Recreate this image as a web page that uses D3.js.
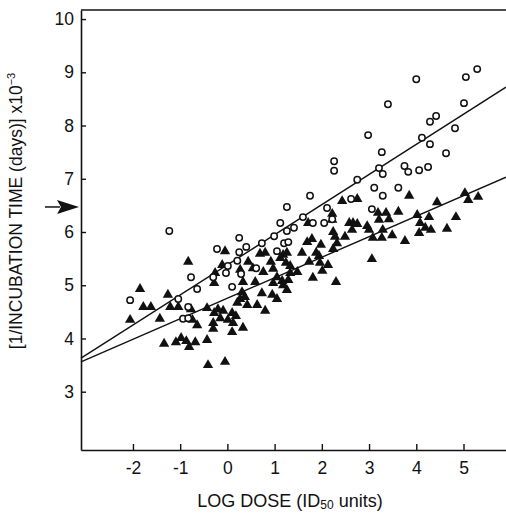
<!DOCTYPE html>
<html>
<head>
<meta charset="utf-8">
<script src="https://cdn.jsdelivr.net/npm/d3@7"></script>
<style>
  body { margin: 0; background: #fff; }
  text { font-family: "Liberation Sans", Arial, Helvetica, sans-serif; fill: #111; }
</style>
</head>
<body>
<div id="chart"></div>
<script>
// datos: [log dosis, 1/tiempo x10^-3]
const circles = [
  [-1.23, 6.02], [-2.06, 4.72], [-0.77, 5.15], [-0.64, 4.93], [-1.04, 4.74],
  [-0.94, 4.37], [-0.83, 4.38], [-0.83, 4.59], [-0.30, 5.15], [-0.22, 5.68],
  [-0.03, 5.23], [0.10, 4.97], [0.25, 5.89], [0.25, 5.62], [0.40, 5.72],
  [0.21, 5.46], [0.01, 5.36], [0.29, 5.21], [0.61, 5.32], [0.73, 5.79],
  [0.99, 5.92], [1.05, 5.64], [1.12, 6.17], [1.20, 5.79], [1.29, 5.81],
  [1.26, 6.02], [1.41, 6.08], [1.60, 6.28], [1.81, 6.17], [1.26, 6.47],
  [1.75, 6.68], [3.40, 8.40], [2.98, 7.82], [3.27, 7.50], [2.26, 7.33],
  [2.26, 7.15], [3.21, 7.20], [3.75, 7.24], [4.00, 8.87], [5.05, 8.91],
  [5.29, 9.06], [5.01, 8.42], [4.29, 8.07], [4.42, 8.18], [4.82, 7.95],
  [4.12, 7.77], [4.29, 7.65], [4.63, 7.48], [3.29, 7.09], [3.83, 7.13],
  [4.06, 7.16], [4.25, 7.22], [2.75, 6.98], [3.11, 6.83], [3.29, 6.68],
  [3.62, 6.83], [2.11, 6.45], [2.62, 6.62], [3.06, 6.43], [2.22, 6.24],
  [2.05, 6.17]
];

const triangles = [
  [-2.06, 4.35], [-1.85, 4.93], [-1.78, 4.59], [-1.62, 4.59], [-1.43, 4.37],
  [-1.34, 3.90], [-1.26, 4.82], [-1.21, 4.59], [-1.09, 3.93], [-1.04, 4.59],
  [-0.98, 4.01], [-0.87, 3.95], [-0.83, 5.44], [-0.81, 3.84], [-0.77, 4.55],
  [-0.74, 4.35], [-0.68, 3.93], [-0.64, 4.25], [-0.43, 4.57], [-0.43, 3.97],
  [-0.41, 3.50], [-0.30, 4.29], [-0.30, 4.18], [-0.28, 4.48], [-0.28, 5.04],
  [-0.26, 5.23], [-0.20, 4.55], [-0.09, 4.52], [-0.15, 4.38], [-0.11, 5.38],
  [-0.05, 5.64], [-0.05, 3.56], [0.01, 4.35], [0.10, 4.48], [0.12, 4.29],
  [0.18, 4.42], [0.21, 4.67], [0.10, 4.12], [0.33, 4.20], [0.27, 4.74],
  [0.42, 4.63], [0.33, 5.06], [0.31, 4.87], [0.44, 5.44], [0.27, 5.29],
  [0.59, 5.06], [0.63, 4.63], [0.54, 5.32], [0.69, 5.59], [0.80, 5.61],
  [0.92, 5.44], [0.76, 5.25], [0.97, 5.31], [0.73, 4.85], [0.80, 4.52],
  [0.95, 4.82], [1.05, 4.74], [0.97, 5.04], [1.05, 5.15], [1.16, 5.08],
  [1.29, 5.10], [1.18, 5.00], [1.26, 4.91], [1.12, 5.51], [1.18, 5.57],
  [1.26, 5.61], [1.24, 5.42], [1.33, 5.36], [1.33, 5.23], [1.48, 5.25],
  [1.58, 5.61], [1.73, 5.44], [1.69, 5.81], [1.79, 5.87], [1.88, 5.61],
  [1.81, 5.14], [1.94, 5.55], [1.98, 5.76], [1.96, 5.42], [2.13, 5.38],
  [2.01, 5.27], [2.30, 5.06], [2.24, 5.68], [2.32, 5.79], [2.24, 6.00],
  [2.28, 5.91], [2.49, 5.91], [2.22, 6.34], [2.22, 6.23], [2.43, 6.58],
  [2.75, 6.62], [2.58, 6.17], [2.66, 6.17], [2.75, 6.15], [2.64, 6.04],
  [2.96, 6.11], [3.00, 6.04], [3.06, 5.49], [3.08, 5.89], [3.27, 5.89],
  [3.29, 6.04], [3.19, 6.36], [3.36, 6.36], [3.42, 6.24], [3.21, 6.23],
  [3.49, 5.94], [3.62, 6.38], [3.76, 5.83], [3.85, 6.68], [4.02, 6.32],
  [4.08, 6.17], [4.06, 5.98], [4.27, 6.28], [4.19, 6.08], [4.31, 6.04],
  [4.44, 6.56], [4.65, 6.06], [4.84, 6.28], [5.03, 6.73], [5.10, 6.60],
  [5.31, 6.66], [1.71, 6.17], [0.37, 4.78]
];

// rectas de regresion: [intercepto, pendiente]
const fitCircles = [5.383, 0.5656];
const fitTriangles = [4.755, 0.3856];

const xTicks = [-2, -1, 0, 1, 2, 3, 4, 5];
const yTicks = [3, 4, 5, 6, 7, 8, 9, 10];
const arrowValue = 6.47;

const WIDTH = 506;
const HEIGHT = 514;
const MARGIN = { top: 10, right: 0, bottom: 64, left: 81 };

const svg = d3.select("#chart").append("svg")
  .attr("width", WIDTH)
  .attr("height", HEIGHT);

const xScale = d3.scaleLinear()
  .domain([-3.1, 5.9])
  .range([MARGIN.left, WIDTH - MARGIN.right]);

const yScale = d3.scaleLinear()
  .domain([1.905, 10.17])
  .range([HEIGHT - MARGIN.bottom, MARGIN.top]);

// ejes
const yAxis = d3.axisLeft(yScale)
  .tickValues(yTicks)
  .tickSizeInner(-5)
  .tickSizeOuter(0)
  .tickPadding(7)
  .tickFormat(d => String(d));

const xAxis = d3.axisBottom(xScale)
  .tickValues(xTicks)
  .tickSizeInner(-6)
  .tickSizeOuter(0)
  .tickPadding(12)
  .tickFormat(d => String(d));

const gy = svg.append("g")
  .attr("transform", `translate(${MARGIN.left},0)`)
  .call(yAxis);

const gx = svg.append("g")
  .attr("transform", `translate(0,${HEIGHT - MARGIN.bottom})`)
  .call(xAxis);

[gx, gy].forEach(g => {
  g.select(".domain").attr("stroke", "#111").attr("stroke-width", 1.6);
  g.selectAll(".tick line").attr("stroke", "#111").attr("stroke-width", 1.4);
  g.selectAll(".tick text")
    .attr("font-size", 17.5)
    .attr("font-family", "Liberation Sans, Arial, sans-serif")
    .attr("fill", "#111");
});

// borde superior
svg.append("line")
  .attr("x1", MARGIN.left).attr("x2", WIDTH)
  .attr("y1", yScale(10.17)).attr("y2", yScale(10.17))
  .attr("stroke", "#111").attr("stroke-width", 1.6);

// rectas
const lineGen = d3.line().x(d => xScale(d[0])).y(d => yScale(d[1]));
[fitCircles, fitTriangles].forEach(f => {
  const pts = xScale.domain().map(x => [x, f[0] + f[1] * x]);
  svg.append("path")
    .attr("d", lineGen(pts))
    .attr("fill", "none")
    .attr("stroke", "#111")
    .attr("stroke-width", 1.4);
});

// triangulos
const tri = d3.symbol().type(d3.symbolTriangle).size(46);
svg.append("g")
  .selectAll("path")
  .data(triangles)
  .join("path")
  .attr("d", tri)
  .attr("transform", d => `translate(${xScale(d[0])},${yScale(d[1])})`)
  .attr("fill", "#111");

// circulos
svg.append("g")
  .selectAll("circle")
  .data(circles)
  .join("circle")
  .attr("cx", d => xScale(d[0]))
  .attr("cy", d => yScale(d[1]))
  .attr("r", 3.2)
  .attr("fill", "#fff")
  .attr("stroke", "#111")
  .attr("stroke-width", 1.5);

// flecha
const ay = yScale(arrowValue);
svg.append("line")
  .attr("x1", 45).attr("x2", 60)
  .attr("y1", ay).attr("y2", ay)
  .attr("stroke", "#111").attr("stroke-width", 1.5);
svg.append("path")
  .attr("d", `M57,${ay - 7}L79,${ay}L57,${ay + 7}L61,${ay}Z`)
  .attr("fill", "#111");

// etiquetas
const xLabel = svg.append("text")
  .attr("x", 290)
  .attr("y", 507)
  .attr("text-anchor", "middle")
  .attr("font-size", 18);
xLabel.append("tspan").text("LOG DOSE (ID");
xLabel.append("tspan").attr("font-size", 12).attr("dy", 2).text("50");
xLabel.append("tspan").attr("dy", -2).text(" units)");

const yLabel = svg.append("text")
  .attr("transform", `translate(22,211) rotate(-90)`)
  .attr("text-anchor", "middle")
  .attr("font-size", 17.5);
yLabel.append("tspan").text("[1/INCUBATION TIME (days)] x10");
yLabel.append("tspan").attr("font-size", 11).attr("dy", -7).text("−3");
</script>
</body>
</html>
